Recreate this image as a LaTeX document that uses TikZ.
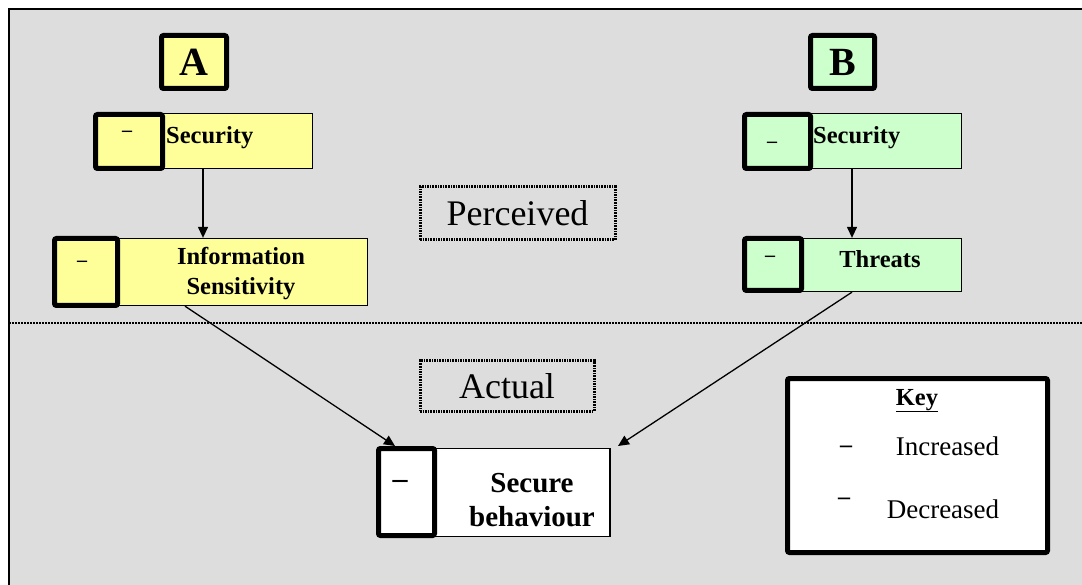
\documentclass[tikz,border=0pt]{standalone}
\usepackage{fontspec}
\setmainfont{Liberation Serif}
\usetikzlibrary{arrows.meta}
\definecolor{panel}{HTML}{DDDDDD}
\definecolor{paleyellow}{HTML}{FFFF99}
\definecolor{palegreen}{HTML}{CCFFCC}
\tikzset{
  factor/.style={draw=black, line width=1.3pt, inner sep=0pt},
  signbox/.style={draw=black, line width=5pt, rounded corners=2pt, inner sep=0pt},
  tag/.style={draw=black, line width=5pt, rounded corners=2pt, inner sep=0pt,
    font=\fontsize{40}{40}\selectfont\bfseries},
  level/.style={draw=black, line width=3pt, dash pattern=on 1.6pt off 1pt,
    inner sep=0pt, font=\fontsize{36}{36}\selectfont},
  label/.style={inner sep=0pt, font=\fontsize{24.5}{30}\selectfont\bfseries, align=center},
  sign/.style={inner sep=0pt, font=\fontsize{20}{20}\selectfont\bfseries},
  keytext/.style={inner sep=0pt, font=\fontsize{27}{27}\selectfont},
  link/.style={line width=1.3pt, -{Triangle[length=11pt,width=10pt]}}
}
\begin{document}
\begin{tikzpicture}[x=1pt,y=-1pt]
\useasboundingbox (0,0) rectangle (1082,585);
% panel
\fill[panel] (9,9) rectangle (1082,585);
\draw[line width=2.5pt] (9,585) -- (9,9) -- (1082,9);
% divider between perceived and actual
\draw[line width=1.3pt, dash pattern=on 1.5pt off 1.5pt] (9,323) -- (1082,323);

% group tags
\node[tag, fill=paleyellow, minimum width=65pt, minimum height=53pt] (tagA) at (194,62) {A};
\node[tag, fill=palegreen, minimum width=64pt, minimum height=53pt] (tagB) at (842.5,62) {B};

% group A: perceived security
\node[factor, fill=paleyellow, minimum width=149pt, minimum height=55pt] (secA) at (238,141) {};
\node[signbox, fill=paleyellow, minimum width=67pt, minimum height=54pt] (secAsign) at (129,141.5) {};
\node[sign] (secAdash) at (127,134) {\textendash};
\node[label, anchor=base west] (secAtext) at (166,144) {Security};

% group A: perceived information sensitivity
\node[factor, fill=paleyellow, minimum width=249pt, minimum height=67pt] (infoA) at (243,272) {};
\node[signbox, fill=paleyellow, minimum width=63pt, minimum height=67pt] (infoAsign) at (86,272) {};
\node[sign] (infoAdash) at (82,264) {\textendash};
\node[label] (infoAtext) at (241,274) {Information\\Sensitivity};

% group B: perceived security
\node[factor, fill=palegreen, minimum width=150pt, minimum height=55pt] (secB) at (886.5,141) {};
\node[signbox, fill=palegreen, minimum width=66pt, minimum height=54pt] (secBsign) at (777.5,141.5) {};
\node[sign] (secBdash) at (772,145) {\textendash};
\node[label, anchor=base west] (secBtext) at (813,144) {Security};

% group B: perceived threats
\node[factor, fill=palegreen, minimum width=159pt, minimum height=53pt] (thrB) at (882,265) {};
\node[signbox, fill=palegreen, minimum width=57pt, minimum height=52pt] (thrBsign) at (773,264.5) {};
\node[sign] (thrBdash) at (770,259) {\textendash};
\node[label, anchor=base] (thrBtext) at (880,268) {Threats};

% level captions
\node[level, minimum width=195pt, minimum height=53pt] (perceived) at (517.5,213.5) {Perceived};
\node[level, minimum width=174pt, minimum height=50pt] (actual) at (507,386) {Actual};

% outcome: secure behaviour
\node[factor, fill=white, minimum width=175pt, minimum height=88pt] (secure) at (522.5,492.5) {};
\node[signbox, fill=white, minimum width=56pt, minimum height=87pt] (securesign) at (406.5,492) {};
\node[inner sep=0pt, font=\fontsize{30}{30}\selectfont\bfseries] (securedash) at (400,484) {\textendash};
\node[inner sep=0pt, font=\fontsize{29}{34}\selectfont\bfseries, align=center] (securetext) at (532,500) {Secure\\behaviour};

% key
\node[signbox, fill=white, minimum width=260pt, minimum height=174pt] (key) at (917.5,465.5) {};
\node[inner sep=0pt, font=\fontsize{24.5}{24.5}\selectfont\bfseries, anchor=base] (keytitle) at (917,405) {\underline{Key}};
\node[sign, font=\fontsize{24}{24}\selectfont\bfseries] (keyincdash) at (846,449) {\textendash};
\node[keytext, anchor=base] (keyinc) at (947.5,455) {Increased};
\node[sign, font=\fontsize{24}{24}\selectfont\bfseries] (keydecdash) at (844,501) {\textendash};
\node[keytext, anchor=base] (keydec) at (943,518) {Decreased};

% connector ends
\coordinate (colA) at (203,0);
\coordinate (colB) at (852,0);
\coordinate (fromInfo) at (185,0);
\coordinate (toSecureL) at (395,446);
\coordinate (toSecureR) at (618,446);

% connectors
\draw[link] (secA.south -| colA) -- (infoA.north -| colA);
\draw[link] (secB.south -| colB) -- (thrB.north -| colB);
\draw[link] (infoA.south -| fromInfo) -- (toSecureL);
\draw[link] (thrB.south -| colB) -- (toSecureR);
\end{tikzpicture}
\end{document}
